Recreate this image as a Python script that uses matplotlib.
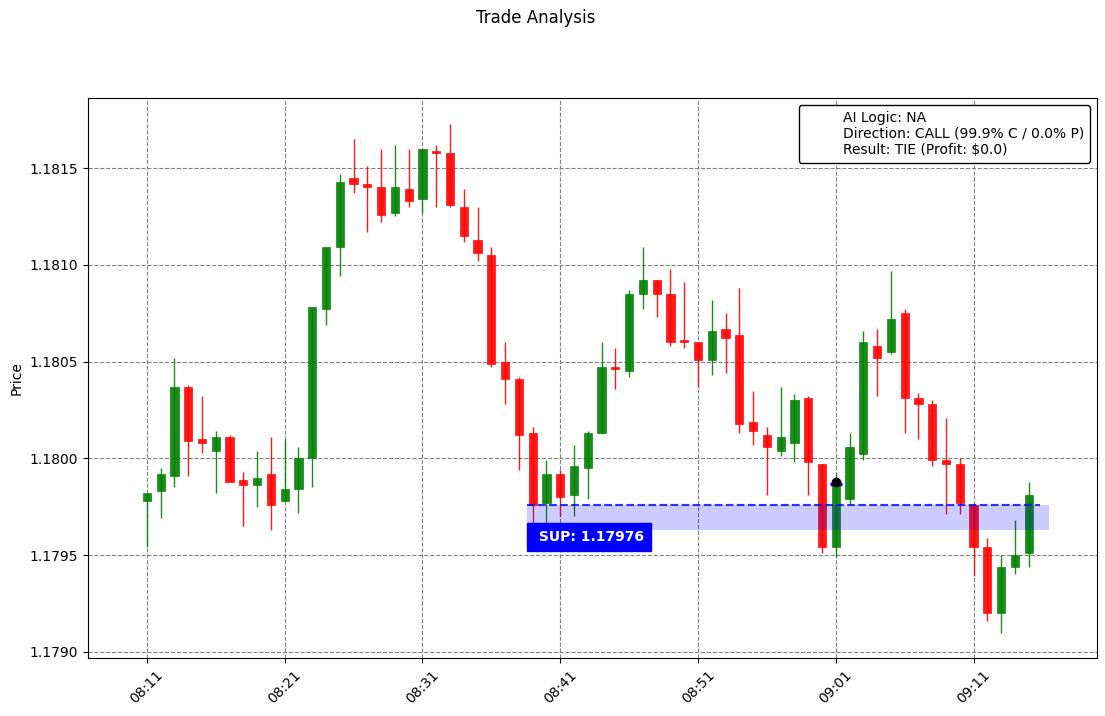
import matplotlib
matplotlib.use("Agg")
import matplotlib.pyplot as plt
import matplotlib.dates as mdates
from matplotlib.lines import Line2D
from matplotlib.patches import Rectangle
import pandas as pd


START_TIME = "2024-01-01 08:11"

opens = [
    1.17978, 1.17983, 1.17991, 1.18037, 1.18010, 1.18004, 1.18011, 1.17989, 1.17986, 1.17992,
    1.17978, 1.17984, 1.18000, 1.18077, 1.18109, 1.18145, 1.18142, 1.18140, 1.18127, 1.18139,
    1.18134, 1.18159, 1.18158, 1.18130, 1.18113, 1.18105, 1.18050, 1.18041, 1.18013, 1.17977,
    1.17992, 1.17981, 1.17995, 1.18013, 1.18047, 1.18045, 1.18085, 1.18092, 1.18085, 1.18061,
    1.18060, 1.18051, 1.18067, 1.18064, 1.18019, 1.18012, 1.18004, 1.18008, 1.18031, 1.17997,
    1.17954, 1.17979, 1.18002, 1.18058, 1.18055, 1.18075, 1.18031, 1.18028, 1.17999, 1.17997,
    1.17976, 1.17954, 1.17920, 1.17944, 1.17951,
]
highs = [
    1.17982, 1.17995, 1.18052, 1.18038, 1.18032, 1.18014, 1.18012, 1.17993, 1.18004, 1.18011,
    1.18010, 1.18006, 1.18078, 1.18109, 1.18147, 1.18165, 1.18151, 1.18160, 1.18162, 1.18160,
    1.18160, 1.18162, 1.18173, 1.18139, 1.18130, 1.18109, 1.18060, 1.18042, 1.18016, 1.17999,
    1.17994, 1.18007, 1.18014, 1.18060, 1.18057, 1.18087, 1.18109, 1.18092, 1.18098, 1.18091,
    1.18060, 1.18082, 1.18075, 1.18088, 1.18035, 1.18016, 1.18037, 1.18033, 1.18032, 1.17997,
    1.17992, 1.18013, 1.18066, 1.18067, 1.18097, 1.18077, 1.18034, 1.18030, 1.18021, 1.18000,
    1.17977, 1.17959, 1.17950, 1.17968, 1.17988,
]
lows = [
    1.17954, 1.17969, 1.17985, 1.17991, 1.18003, 1.17982, 1.17988, 1.17965, 1.17975, 1.17963,
    1.17978, 1.17972, 1.17985, 1.18069, 1.18094, 1.18137, 1.18117, 1.18122, 1.18125, 1.18130,
    1.18127, 1.18130, 1.18130, 1.18112, 1.18102, 1.18047, 1.18028, 1.17994, 1.17966, 1.17966,
    1.17970, 1.17970, 1.17979, 1.18013, 1.18036, 1.18042, 1.18077, 1.18073, 1.18058, 1.18057,
    1.18037, 1.18043, 1.18044, 1.18013, 1.18007, 1.17981, 1.18001, 1.17998, 1.17981, 1.17951,
    1.17949, 1.17976, 1.17999, 1.18032, 1.18054, 1.18013, 1.18010, 1.17996, 1.17971, 1.17971,
    1.17939, 1.17916, 1.17910, 1.17940, 1.17944,
]
closes = [
    1.17982, 1.17992, 1.18037, 1.18009, 1.18008, 1.18011, 1.17988, 1.17986, 1.17990, 1.17976,
    1.17984, 1.18000, 1.18078, 1.18109, 1.18143, 1.18142, 1.18140, 1.18126, 1.18140, 1.18133,
    1.18160, 1.18158, 1.18131, 1.18115, 1.18106, 1.18049, 1.18041, 1.18012, 1.17976, 1.17992,
    1.17980, 1.17996, 1.18013, 1.18047, 1.18046, 1.18085, 1.18092, 1.18085, 1.18060, 1.18060,
    1.18051, 1.18066, 1.18062, 1.18018, 1.18014, 1.18006, 1.18011, 1.18030, 1.17998, 1.17954,
    1.17987, 1.18006, 1.18060, 1.18052, 1.18072, 1.18031, 1.18028, 1.17999, 1.17997, 1.17977,
    1.17954, 1.17920, 1.17944, 1.17950, 1.17981,
]

support_level = 1.17976
support_zone_low = 1.17963
entry_index = 50
entry_price = 1.17988

info_lines = [
    "AI Logic: NA",
    "Direction: CALL (99.9% C / 0.0% P)",
    "Result: TIE (Profit: $0.0)",
]

BODY_WIDTH = 0.6 / 1440.0
MINUTE = 1.0 / 1440.0

times = pd.date_range(START_TIME, periods=len(opens), freq="1min")
x = mdates.date2num(times.to_pydatetime())

fig, ax = plt.subplots(figsize=(11.05, 7.16), dpi=100)
fig.subplots_adjust(left=0.0796, right=0.9925, bottom=0.081, top=0.863)

for xi, o, h, l, c in zip(x, opens, highs, lows, closes):
    color = "green" if c >= o else "red"
    ax.vlines(xi, l, h, color=color, linewidth=1, alpha=0.9)
    bottom = min(o, c)
    height = max(abs(c - o), 0.000004)
    ax.add_patch(
        Rectangle(
            (xi - BODY_WIDTH / 2, bottom),
            BODY_WIDTH,
            height,
            facecolor=color,
            edgecolor=color,
            linewidth=0.5,
            alpha=0.9,
        )
    )

# support zone
zone_start = x[0] + 27.6 * MINUTE
zone_end = x[0] + 65.5 * MINUTE
line_end = x[0] + 64.8 * MINUTE
ax.add_patch(
    Rectangle(
        (zone_start, support_zone_low),
        zone_end - zone_start,
        support_level - support_zone_low,
        facecolor="blue",
        edgecolor="none",
        alpha=0.2,
        zorder=3,
    )
)
ax.hlines(support_level, zone_start, line_end, colors="blue", linestyles="--",
          linewidth=1.5, alpha=0.8, zorder=3)
ax.text(
    zone_start + 0.5 * MINUTE,
    support_level - 0.000165,
    f" SUP: {support_level:.5f}",
    color="white",
    fontsize=10,
    fontweight="bold",
    va="center",
    ha="left",
    bbox=dict(boxstyle="square,pad=0.5", facecolor="blue", edgecolor="blue"),
    zorder=5,
)

# entry marker
ax.plot(x[entry_index], closes[entry_index], marker="_", color="blue",
        markersize=9, markeredgewidth=2.5, zorder=4)
ax.plot(x[entry_index], entry_price, marker="o", color="black",
        markersize=6, zorder=5)

ax.set_xlim(x[0] - 4.28 * MINUTE, x[0] + 68.94 * MINUTE)
ax.xaxis.set_major_locator(mdates.MinuteLocator(byminute=range(1, 60, 10)))
ax.xaxis.set_major_formatter(mdates.DateFormatter("%H:%M"))
plt.setp(ax.get_xticklabels(), rotation=45)

ax.set_ylabel("Price")
ax.grid(True, linestyle="--", color="gray", alpha=1.0, linewidth=0.8)
ax.set_axisbelow(True)

handle = Line2D([], [], color="none")
leg = ax.legend([handle], ["\n".join(info_lines)], loc="upper right",
                fontsize=10, framealpha=1.0, edgecolor="black", fancybox=True)

fig.suptitle("Trade Analysis", x=0.4846, y=0.987)
fig.savefig("out.png", dpi=100)
